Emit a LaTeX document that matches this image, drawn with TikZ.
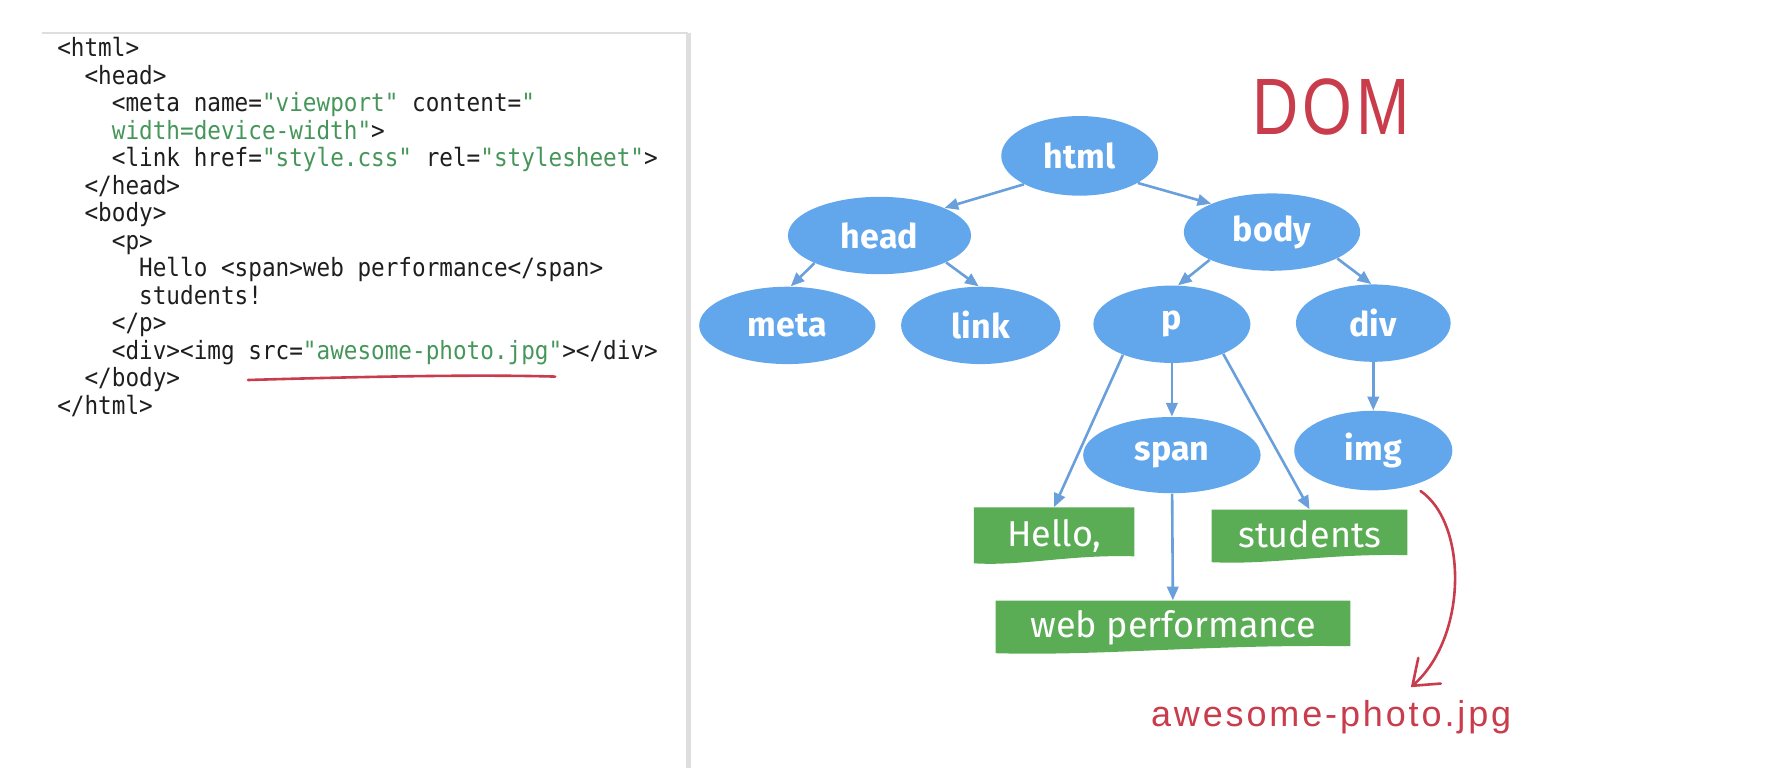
\documentclass[tikz,border=0pt]{standalone}
\usepackage{fontspec}
\usetikzlibrary{shapes.geometric,arrows.meta,calc}
\newfontfamily\codefont{DejaVu Sans Mono}[FakeStretch=0.9]
\newfontfamily\treefont{Fira Sans}
\newfontfamily\domfont{Liberation Sans}[FakeStretch=0.8,LetterSpace=5]
\newfontfamily\handfont{Liberation Sans}[LetterSpace=8]
\definecolor{nodeblue}{RGB}{98,166,236}
\definecolor{arrowblue}{RGB}{105,160,220}
\definecolor{leafgreen}{RGB}{90,173,85}
\definecolor{cg}{RGB}{70,150,90}
\definecolor{codeblack}{RGB}{30,30,30}
\definecolor{handred}{RGB}{200,60,75}
\definecolor{panelgray}{RGB}{222,222,222}
\tikzset{
  tn/.style={ellipse, fill=nodeblue, inner sep=0pt, text=white,
    font=\treefont\bfseries\fontsize{17}{20}\selectfont, minimum height=1.36cm},
  leaf/.style={rectangle, inner sep=0pt, text=white,
    font=\treefont\fontsize{18}{21}\selectfont,
    path picture={
      \fill[leafgreen] (path picture bounding box.north west) -- (path picture bounding box.north east)
        -- ([yshift=4pt]path picture bounding box.south east)
        .. controls ($(path picture bounding box.south east)!0.4!(path picture bounding box.south west)+(0,5pt)$)
        and ($(path picture bounding box.south east)!0.7!(path picture bounding box.south west)+(0,-1pt)$)
        .. ([yshift=0.5pt]path picture bounding box.south west) -- cycle;
    }},
  conn/.style={draw=arrowblue, line width=1.3pt, -{Triangle[length=0.24cm,width=0.2cm]}},
  code/.style={anchor=base west, inner sep=0pt, font=\codefont\fontsize{12.6}{15}\selectfont, text=codeblack},
  hand/.style={draw=handred, line width=1.3pt, line cap=round}
}
\begin{document}
\begin{tikzpicture}[x=0.02cm,y=-0.02cm]
\useasboundingbox (0,0) rectangle (1568,675);
% code panel
\draw[panelgray, line width=0.8pt] (37,29) -- (605,29);
\draw[panelgray, line width=2.2pt] (605,29) -- (605,675);
\node[code] (c1) at (50,50) {<html>};
\node[code] (c2) at (74,74.15) {<head>};
\node[code] (c3) at (98,98.3) {<meta name=\textcolor{cg}{"viewport"} content=\textcolor{cg}{"}};
\node[code] (c4) at (98,122.45) {\textcolor{cg}{width=device-width"}>};
\node[code] (c5) at (98,146.6) {<link href=\textcolor{cg}{"style.css"} rel=\textcolor{cg}{"stylesheet"}>};
\node[code] (c6) at (74,170.75) {</head>};
\node[code] (c7) at (74,194.9) {<body>};
\node[code] (c8) at (98,219.05) {<p>};
\node[code] (c9) at (122,243.2) {Hello <span>web performance</span>};
\node[code] (c10) at (122,267.35) {students!};
\node[code] (c11) at (98,291.5) {</p>};
\node[code] (c12) at (98,315.65) {<div><img src=\textcolor{cg}{"awesome-photo.jpg"}></div>};
\node[code] (c13) at (74,339.8) {</body>};
\node[code] (c14) at (50,363.95) {</html>};
\draw[hand] (218,334) .. controls (320,331) and (420,329) .. (488,331);
% DOM title
\node[text=handred, font=\domfont\fontsize{40}{44}\selectfont, inner sep=0pt] (dom) at (1170,94) {DOM};
% tree
\node[tn, minimum width=2.76cm, minimum height=1.4cm] (html) at (949,137) {html};
\node[tn, minimum width=3.22cm] (head) at (773,207) {head};
\node[tn, minimum width=3.1cm] (body) at (1118,204) {body};
\node[tn, minimum width=3.1cm] (meta) at (692,286) {meta};
\node[tn, minimum width=2.8cm] (link) at (862,286) {link};
\node[tn, minimum width=2.76cm] (p) at (1030,285) {p};
\node[tn, minimum width=2.72cm] (div) at (1207,284) {div};
\node[tn, minimum width=3.12cm, minimum height=1.34cm] (span) at (1030,400) {span};
\node[tn, minimum width=2.78cm, minimum height=1.4cm] (img) at (1207,396) {img};
\node[leaf, minimum width=2.82cm, minimum height=1.0cm] (hello) at (926.5,471) {\raisebox{2pt}{Hello,}};
\node[leaf, minimum width=3.44cm, minimum height=0.94cm] (students) at (1151,471.5) {\raisebox{2.8pt}{students}};
\node[leaf, minimum width=6.24cm, minimum height=0.94cm] (web) at (1031,551.5) {\raisebox{2pt}{web performance}};
\draw[conn] (html.207) -- (head.23);
\draw[conn] (html.335) -- (body.155);
\draw[conn] (head.203) -- (meta.85);
\draw[conn] (head.338) -- (link.93);
\draw[conn] (body.204) -- (p.81);
\draw[conn] (body.338) -- (div.93);
\draw[conn] (p.212) -- (hello.north);
\draw[conn] (p) -- (span);
\draw[conn] (p.330) -- (students.north);
\draw[conn] (span) -- (web);
\draw[conn] (div) -- (img);
% handwritten annotation
\node[text=handred, font=\handfont\fontsize{18}{20}\selectfont, inner sep=0pt] (photo) at (1170,630) {awesome-photo.jpg};
\coordinate (redend) at (1240,604);
\draw[hand, -{Straight Barb[length=0.4cm,width=0.6cm,line cap=round]}] ([shift={(10,4)}]img.-45) .. controls (1290,460) and (1290,560) .. (redend);
\end{tikzpicture}
\end{document}
